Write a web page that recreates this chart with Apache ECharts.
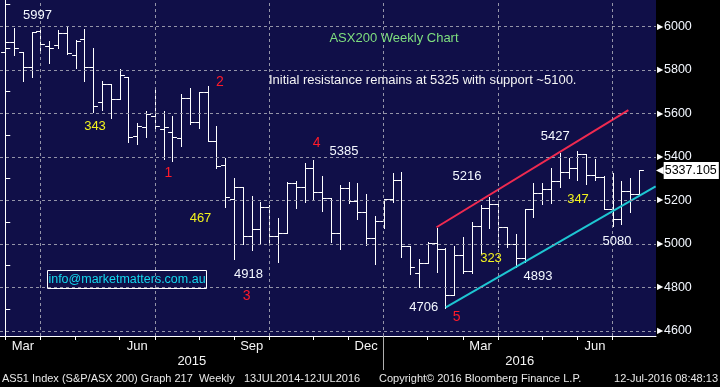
<!DOCTYPE html>
<html><head><meta charset="utf-8">
<script src="https://cdn.jsdelivr.net/npm/echarts@6/dist/echarts.min.js"></script>
<style>html,body{margin:0;padding:0;background:#000;}#c{width:720px;height:387px;}</style>
</head><body><div id="c"></div>
<script>
// weekly bars (week starting)
const weeks = ['2015-02-23','2015-03-02','2015-03-09','2015-03-16','2015-03-23','2015-03-30','2015-04-06','2015-04-13','2015-04-20','2015-04-27',
'2015-05-04','2015-05-11','2015-05-18','2015-05-25','2015-06-01','2015-06-08','2015-06-15','2015-06-22','2015-06-29','2015-07-06',
'2015-07-13','2015-07-20','2015-07-27','2015-08-03','2015-08-10','2015-08-17','2015-08-24','2015-08-31','2015-09-07','2015-09-14',
'2015-09-21','2015-09-28','2015-10-05','2015-10-12','2015-10-19','2015-10-26','2015-11-02','2015-11-09','2015-11-16','2015-11-23',
'2015-11-30','2015-12-07','2015-12-14','2015-12-21','2015-12-28','2016-01-04','2016-01-11','2016-01-18','2016-01-25','2016-02-01',
'2016-02-08','2016-02-15','2016-02-22','2016-02-29','2016-03-07','2016-03-14','2016-03-21','2016-03-28','2016-04-04','2016-04-11',
'2016-04-18','2016-04-25','2016-05-02','2016-05-09','2016-05-16','2016-05-23','2016-05-30','2016-06-06','2016-06-13','2016-06-20',
'2016-06-27','2016-07-04','2016-07-11'];
const openP = [5880,5926,5880,5811,5978,5909,5914,5968,5868,5940,5811,5653,
5733,5664,5766,5497,5538,5589,5526,5513,5485,5669,5561,5697,5473,
5362,5205,5260,5037,5067,5168,5037,5048,5278,5262,5347,5237,
5212,5048,5255,5198,5148,5025,5105,5205,5293,4990,4864,4913,5002,
4975,4765,4948,4876,5083,5163,5182,5079,4998,4936,5159,5232,
5251,5289,5329,5347,5411,5316,5308,5159,5113,5244,5228];
const highP = [5957,5993,5880,5975,5997,5932,5983,5995,5937,5988,5899,5748,
5733,5802,5766,5554,5611,5707,5611,5588,5689,5715,5697,5725,5542,
5393,5301,5260,5220,5194,5180,5117,5285,5290,5373,5385,5312,
5212,5270,5283,5278,5229,5128,5206,5324,5330,4990,4929,5007,5071,
4979,4990,5033,5102,5178,5217,5201,5079,5045,5159,5281,5278,
5347,5416,5393,5427,5411,5388,5312,5327,5290,5301,5337.105];
const lowP = [5869,5869,5750,5766,5876,5830,5902,5872,5810,5750,5607,5615,
5577,5664,5469,5457,5492,5523,5390,5382,5451,5549,5534,5473,5350,
5171,4929,4998,4971,5005,5010,4918,5048,5163,5194,5201,5152,
5010,4976,5186,5114,4994,4907,5071,5191,4941,4861,4803,4910,4872,
4706,4765,4864,4864,4956,5071,4987,4987,4893,4918,5125,5183,
5186,5262,5301,5293,5275,5293,5159,5080,5090,5148,5224];
const closeP = [5926,5899,5811,5972,5917,5899,5968,5876,5932,5811,5634,5735,
5664,5775,5492,5543,5597,5543,5536,5490,5669,5561,5697,5473,5358,
5214,5260,5037,5067,5168,5037,5048,5278,5262,5347,5237,5212,
5048,5255,5198,5148,5025,5105,5205,5293,4990,4892,4913,5002,4975,
4765,4948,4876,5083,5163,5182,5079,4998,4936,5159,5232,5251,
5289,5329,5347,5411,5316,5308,5159,5113,5244,5228,5337.105];
const lastPrice = 5337.105;
// trend lines [week index, price]
const resistanceLine = [[49.0, 5076], [70.8, 5615]];
const supportLine = [[50.05, 4708], [73.9, 5264]];
// axis
const monthTickIdx = [0,4,8,13,17,22,26,30,35,39,43,48,52,56,61,65,69];
const quarterIdx = [4,17,30,43,56,69];
const monthLabelPos = [2,15,28,41,54,67];
const monthLabelText = ['Mar','Jun','Sep','Dec','Mar','Jun'];
const yearLabelPos = [21.2,58.45];
const yearLabelText = ['2015','2016'];
const yearBoundaryIdx = [43];
const priceLevels = [4600,4800,5000,5200,5400,5600,5800,6000];
const minorLevels = [4700,4900,5100,5300,5500,5700,5900,6100];
// annotations
const annText = ['5997','343','2','1','467','4918','3','4','5385','5216','4706','5','323','4893','5427','347','5080'];
const annKind = ['w','y','r','r','y','w','r','r','w','w','w','r','y','w','w','y','w'];

const FONT = 'Liberation Sans, Arial, sans-serif';
const annXY = [[37.5,15],[95,126],[220,82],[168.3,173.3],[200.5,218],[248.5,274],[246.7,296],[316.7,143.3],[344,151.7],
[467,176],[423.7,307.7],[456.7,316.7],[491,258],[538,276],[555.3,136.7],[578,199.3],[617,241]];
const kindStyle = {w:{c:'#f4f8ff',s:13}, y:{c:'#f2f21e',s:13}, r:{c:'#ff1a2a',s:14}};

const ohlc = weeks.map((d,i)=>[i, openP[i], highP[i], lowP[i], closeP[i]]);

const chart = echarts.init(document.getElementById('c'), null, {renderer:'canvas'});
const graphics = annText.map((t,i)=>({type:'text', x:annXY[i][0], y:annXY[i][1], z:50,
  style:{text:t, fill:kindStyle[annKind[i]].c, font: kindStyle[annKind[i]].s+'px '+FONT, align:'center', verticalAlign:'middle'}}));
const FOOT = '11px '+FONT;
graphics.push(
  {type:'text', x:394, y:38, z:50, style:{text:'ASX200 Weekly Chart', fill:'#7fdf7f', font:'13px '+FONT, align:'center', verticalAlign:'middle'}},
  {type:'text', x:269, y:80, z:50, style:{text:'Initial resistance remains at 5325 with support ~5100.', fill:'#f4f4f4', font:'13px '+FONT, align:'left', verticalAlign:'middle'}},
  {type:'rect', z:50, shape:{x:47.5, y:270.5, width:159, height:18}, style:{fill:'none', stroke:'#ffffff', lineWidth:1}},
  {type:'text', x:127, y:280, z:51, style:{text:'info@marketmatters.com.au', fill:'#14d8ee', font:'12.5px '+FONT, align:'center', verticalAlign:'middle'}},
  {type:'text', x:2, y:379, z:50, style:{text:'AS51 Index (S&P/ASX 200) Graph 217  Weekly', fill:'#e8e8e8', font:FOOT, align:'left', verticalAlign:'middle'}},
  {type:'text', x:244, y:379, z:50, style:{text:'13JUL2014-12JUL2016', fill:'#e8e8e8', font:FOOT, align:'left', verticalAlign:'middle'}},
  {type:'text', x:379, y:379, z:50, style:{text:'Copyright\u00a9 2016 Bloomberg Finance L.P.', fill:'#e8e8e8', font:FOOT, align:'left', verticalAlign:'middle'}},
  {type:'text', x:718, y:379, z:50, style:{text:'12-Jul-2016 08:48:13', fill:'#e8e8e8', font:FOOT, align:'right', verticalAlign:'middle'}}
);

const crisp = v => Math.round(v) + 0.5;
const option = {
  backgroundColor:'#000000',
  animation:false,
  grid:{left:0, right:64, top:0, bottom:51, show:true, backgroundColor:'#100f48', borderWidth:0, containLabel:false},
  xAxis:[{
    type:'value', min:-0.6, max:73.94, position:'bottom',
    axisLine:{show:true, lineStyle:{color:'#ffffff', width:1}},
    axisTick:{show:true, customValues:monthTickIdx, length:4, lineStyle:{color:'#ffffff'}},
    axisLabel:{show:true, customValues:monthLabelPos, formatter:v=>monthLabelText[monthLabelPos.indexOf(v)] || '', color:'#f4f4f4', fontSize:13, fontFamily:FONT, margin:4},
    splitLine:{show:false}
  },{
    type:'value', min:-0.6, max:73.94, position:'bottom',
    axisLine:{show:false},
    axisTick:{show:true, customValues:yearBoundaryIdx, length:34, lineStyle:{color:'#b0b0b0'}},
    axisLabel:{show:true, customValues:yearLabelPos, formatter:v=>yearLabelText[yearLabelPos.indexOf(v)] || '', color:'#f4f4f4', fontSize:13, fontFamily:FONT, margin:19},
    splitLine:{show:false}
  }],
  yAxis:{
    type:'value', position:'right', min:4576, max:6121,
    axisLine:{show:true, lineStyle:{color:'#ffffff', width:1}},
    axisTick:{show:true, customValues:minorLevels, length:5, lineStyle:{color:'#ffffff'}},
    axisLabel:{show:true, customValues:priceLevels, margin:1, color:'#f4f8ff', fontSize:12.5, fontFamily:FONT,
      formatter:v=>'{t|\u25B6}'+v, rich:{t:{fontSize:8, color:'#ffffff', padding:[0,1,0,0]}}},
    splitLine:{show:false}
  },
  graphic: graphics,
  series:[
    {type:'line', data:[], silent:true, z:1,
     markLine:{silent:true, symbol:'none', animation:false, label:{show:false},
       lineStyle:{color:'#9494a8', type:[3,3], width:1},
       data:[...quarterIdx.map(x=>({xAxis:x})), ...priceLevels.map(y=>({yAxis:y}))]}},
    {type:'custom', z:3, data:ohlc, encode:{x:0, y:[1,2,3,4]},
     renderItem:function(params, api){
       const x = api.value(0);
       const pH = api.coord([x, api.value(2)]);
       const pL = api.coord([x, api.value(3)]);
       const pO = api.coord([x, api.value(1)]);
       const pC = api.coord([x, api.value(4)]);
       const half = api.size([1,0])[0] / 2;
       const cx = crisp(pH[0]);
       const st = {stroke:'#ffffff', lineWidth:1};
       return {type:'group', children:[
         {type:'line', shape:{x1:cx, y1:Math.round(pH[1]), x2:cx, y2:Math.round(pL[1])+1}, style:st},
         {type:'line', shape:{x1:cx-half, y1:crisp(pO[1]), x2:cx, y2:crisp(pO[1])}, style:st},
         {type:'line', shape:{x1:cx, y1:crisp(pC[1]), x2:cx+half, y2:crisp(pC[1])}, style:st}
       ]};
     }
    },
    {type:'line', z:4, data:resistanceLine, symbol:'none', silent:true, lineStyle:{color:'#f02a50', width:2}},
    {type:'line', z:4, data:supportLine, symbol:'none', silent:true, clip:false, lineStyle:{color:'#1ec6d2', width:2},
     markLine:{silent:true, symbol:'none', animation:false, lineStyle:{color:'rgba(0,0,0,0)', width:0, opacity:1},
       data:[{yAxis:lastPrice}],
       label:{show:true, position:'end', distance:0, opacity:1, formatter:'{a|\u25C0}{b|'+lastPrice+'}',
         rich:{a:{color:'#ffffff', fontSize:10, fontFamily:'DejaVu Sans', height:17, lineHeight:17},
               b:{backgroundColor:'#ffffff', color:'#000000', fontSize:12.5, fontFamily:FONT, padding:[2,2,1,1], height:14, lineHeight:14}}}}
    }
  ]
};
chart.setOption(option);
</script></body></html>
